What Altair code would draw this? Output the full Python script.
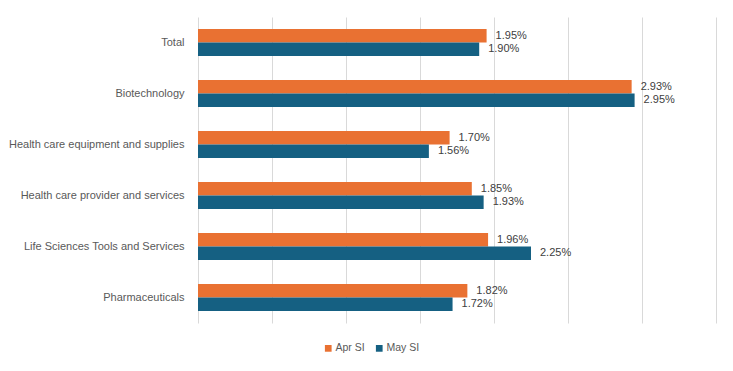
import altair as alt
import pandas as pd

categories = ["Total", "Biotechnology", "Health care equipment and supplies",
              "Health care provider and services", "Life Sciences Tools and Services",
              "Pharmaceuticals"]
series = ["Apr SI", "May SI"]
apr_si = [1.95, 2.93, 1.70, 1.85, 1.96, 1.82]
may_si = [1.90, 2.95, 1.56, 1.93, 2.25, 1.72]
colors = ["#E97132", "#156082"]

rows = []
for c, a, m in zip(categories, apr_si, may_si):
    rows.append({"Category": c, "Series": "Apr SI", "Value": a})
    rows.append({"Category": c, "Series": "May SI", "Value": m})
df = pd.DataFrame(rows)
df["Label"] = df["Value"].map(lambda v: f"{v:.2f}%")

y = alt.Y("Category:N", sort=categories,
          scale=alt.Scale(paddingInner=0.47, paddingOuter=0.235),
          axis=alt.Axis(title=None, domain=False, ticks=False, labelPadding=14,
                        labelFont="Liberation Sans", labelFontSize=11,
                        labelColor="#595959", labelLimit=300))
yoff = alt.YOffset("Series:N", sort=series, scale=alt.Scale(paddingInner=0, paddingOuter=0))
x = alt.X("Value:Q", scale=alt.Scale(domain=[0, 3.5], nice=False),
          axis=alt.Axis(title=None, values=[0, 0.5, 1, 1.5, 2, 2.5, 3, 3.5],
                        labels=False, ticks=False, domain=False,
                        grid=True, gridColor="#d9d9d9", gridWidth=1))

bars = alt.Chart(df).mark_bar(size=13.5).encode(
    y=y, yOffset=yoff, x=x,
    color=alt.Color("Series:N", sort=series,
                    scale=alt.Scale(domain=series, range=colors),
                    legend=alt.Legend(title=None, orient="none", direction="horizontal",
                                      legendX=125, legendY=326,
                                      symbolType="square", symbolSize=45,
                                      symbolStrokeWidth=0,
                                      labelFont="Liberation Sans", labelFontSize=10.5,
                                      labelColor="#595959", columnPadding=9,
                                      labelOffset=2)),
)

labels = alt.Chart(df).mark_text(align="left", baseline="middle", dx=9,
                                 font="Liberation Sans", fontSize=11,
                                 color="#404040").encode(
    y=alt.Y("Category:N", sort=categories), yOffset=alt.YOffset("Series:N", sort=series),
    x="Value:Q", text="Label:N",
)

chart = (bars + labels).properties(
    width=518, height=306,
    autosize=alt.AutoSizeParams(type="none"),
    padding={"left": 190, "top": 9, "right": 9, "bottom": 40},
    background="white",
).configure_view(stroke=None)

chart.save("out.html", embed_options={"renderer": "svg", "actions": False})
